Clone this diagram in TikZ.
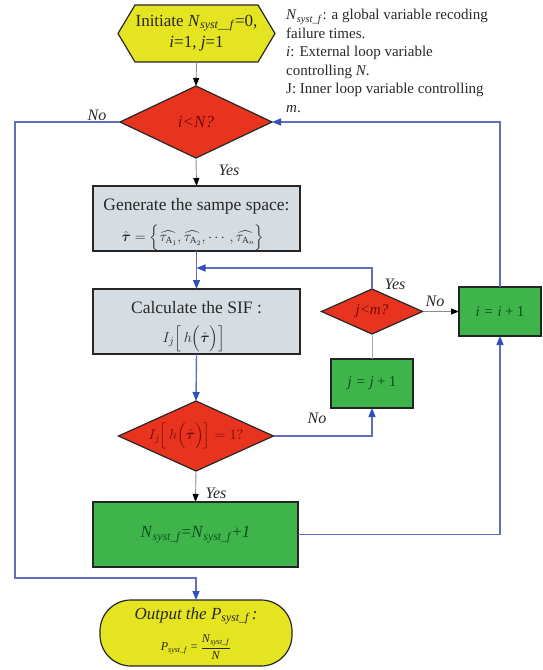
\documentclass[tikz,border=0pt]{standalone}
\usepackage{amsmath}
\usepackage{fontspec}
\setmainfont{Liberation Serif}
\usetikzlibrary{shapes.geometric,arrows.meta}
\definecolor{yel}{RGB}{229,228,32}
\definecolor{redF}{RGB}{232,52,30}
\definecolor{grnF}{RGB}{62,180,74}
\definecolor{gryF}{RGB}{214,221,226}
\definecolor{blueL}{RGB}{96,110,190}
\definecolor{blueA}{RGB}{48,80,190}
\definecolor{dred}{RGB}{120,10,10}
\definecolor{dgrn}{RGB}{10,80,30}
\definecolor{txt}{RGB}{40,40,40}
\newcommand\Nsf{\textit{N}\textsubscript{\textit{syst\_f}}}
\newcommand\IjH{I_j\Bigl[\,h\Bigl(\hat{\boldsymbol{\tau}}\Bigr)\Bigr]}
\begin{document}
\begin{tikzpicture}[x=1pt,y=-1pt,
  boxg/.style={draw=black!85, line width=1.2pt, fill=gryF, minimum width=207pt, minimum height=65pt, inner sep=0pt, outer sep=0pt},
  boxgr/.style={draw=black!85, line width=1.2pt, fill=grnF, inner sep=0pt, outer sep=0pt},
  dia/.style={shape=diamond, draw=black!85, line width=1.2pt, fill=redF, inner sep=0pt, outer sep=0pt},
  bl/.style={draw=blueL, line width=1.4pt, -{Triangle[length=9pt,width=7pt,color=blueA]}},
  gr/.style={draw=black!45, line width=0.9pt, -{Triangle[length=8pt,width=6pt,color=black]}},
  lab/.style={font=\fontsize{16}{18}\selectfont\itshape, text=txt, inner sep=0pt}
]
\useasboundingbox (0,0) rectangle (542,670);

% hexagon start
\draw[fill=yel, line width=1.2pt, draw=black!85] (118,33.5) -- (135,5) -- (258,5) -- (275,33.5) -- (258,62) -- (135,62) -- cycle;
\node[minimum width=157pt, minimum height=57pt, inner sep=0pt, outer sep=0pt] (hex) at (196.5,33.5) {};
\node[font=\fontsize{17}{19}\selectfont, text=txt, inner sep=0pt] (hext1) at (196.5,23) {Initiate \textit{N}\textsubscript{\textit{syst\_\_f}}=0,};
\node[font=\fontsize{17}{19}\selectfont, text=txt, inner sep=0pt] (hext2) at (196.5,44) {\textit{i}=1, \textit{j}=1};

% note
\node[anchor=north west, align=left, font=\fontsize{15}{18.5}\selectfont, text=txt, inner sep=0pt] (note) at (286,9)
 {\Nsf: a global variable recoding\\failure times.\\\textit{i}: External loop variable\\controlling \textit{N}.\\J: Inner loop variable controlling\\\textit{m}.};

% decision i<N
\node[dia, minimum width=152pt, minimum height=72pt] (d1) at (196,122) {};
\node[font=\fontsize{17}{19}\selectfont\itshape, text=dred, inner sep=0pt] (d1t) at (196,122) {i<N?};

% generate
\node[boxg] (gen) at (196.5,218.5) {};
\node[font=\fontsize{17.5}{20}\selectfont, text=txt, inner sep=0pt] (gent1) at (196.5,206) {Generate the sampe space:};
\node[font=\fontsize{13.5}{15}\selectfont, text=txt, inner sep=0pt] (gent2) at (193,238)
 {$\hat{\boldsymbol{\tau}}=\Bigl\{\widehat{\tau_{\mathrm{A}_1}},\widehat{\tau_{\mathrm{A}_2}},\cdots,\widehat{\tau_{\mathrm{A}_n}}\Bigr\}$};

% calculate
\node[boxg] (calc) at (196.5,321.5) {};
\node[font=\fontsize{17.5}{20}\selectfont, text=txt, inner sep=0pt] (calct1) at (196.5,308) {Calculate the SIF :};
\node[font=\fontsize{15}{17}\selectfont, text=txt, inner sep=0pt] (calct2) at (194,339) {$\IjH$};

% decision I_j = 1
\node[dia, minimum width=155pt, minimum height=70pt] (d2) at (196,436) {};
\node[font=\fontsize{14}{16}\selectfont, text=dred, inner sep=0pt] (d2t) at (196,436) {$\IjH=1?$};

% N increment
\node[boxgr, minimum width=205pt, minimum height=65pt] (nsys) at (195.5,534.5) {};
\node[font=\fontsize{17}{19}\selectfont, text=dgrn, inner sep=0pt] (nsyst) at (195.5,534.5)
 {\Nsf=\Nsf+\textit{1}};

% output
\node[draw=black!85, line width=1.2pt, fill=yel, rounded corners=31pt, minimum width=192pt, minimum height=66pt, inner sep=0pt, outer sep=0pt] (out) at (196,633) {};
\node[font=\fontsize{17}{19}\selectfont\itshape, text=txt, inner sep=0pt] (outt1) at (196,616)
 {Output the \textit{P}\textsubscript{\textit{syst\_f}}\,:};
\node[font=\fontsize{12}{14}\selectfont, text=txt, inner sep=0pt] (outt2) at (196,647)
 {\textit{P}\textsubscript{\textit{syst\_f}} = $\dfrac{\text{\textit{N}\textsubscript{\textit{syst\_f}}}}{\text{\textit{N}}}$};

% j<m decision
\node[dia, minimum width=101pt, minimum height=45pt] (d3) at (372,311.5) {};
\node[font=\fontsize{15}{17}\selectfont\itshape, text=dred, inner sep=0pt] (d3t) at (372,311.5) {j<m?};

% j box
\node[boxgr, minimum width=82pt, minimum height=49pt] (jbox) at (372,383.5) {};
\node[font=\fontsize{15}{17}\selectfont\itshape, text=dgrn, inner sep=0pt] (jboxt) at (372,383.5) {j = j\,+\,\textup{1}};

% i box
\node[boxgr, minimum width=82pt, minimum height=49pt] (ibox) at (500,311.5) {};
\node[font=\fontsize{15}{17}\selectfont\itshape, text=dgrn, inner sep=0pt] (iboxt) at (500,311.5) {i = i\,+\,\textup{1}};

\coordinate (join) at (196.5,268);
\coordinate (lcorner) at (15,578);

% connectors
\draw[gr] (hex.south) -- (d1.north);
\draw[gr] (d1.south) -- (gen.north);
\node[lab] (yes1) at (229,170) {Yes};
\draw[bl] (gen.south) -- (calc.north);
\draw[bl] (d3.north) |- (join);
\node[lab] (yes2) at (395,284) {Yes};
\draw[bl] (calc.south) -- (d2.north);
\draw[bl] (d2.east) -| (jbox.south);
\node[lab] (no2) at (317,418) {No};
\draw[draw=black!35, line width=0.9pt] (jbox.north) -- (d3.south);
\draw[gr] (d3.east) -- (ibox.west);
\node[lab] (no3) at (435,301) {No};
\draw[gr] (d2.south) -- (nsys.north);
\node[lab] (yes3) at (216,493) {Yes};
\draw[bl] (nsys.east) -| (ibox.south);
\draw[bl] (ibox.north) |- (d1.east);
\draw[bl] (d1.west) -| (lcorner) -| (out.north);
\node[lab] (no1) at (97,115) {No};
\end{tikzpicture}
\end{document}
